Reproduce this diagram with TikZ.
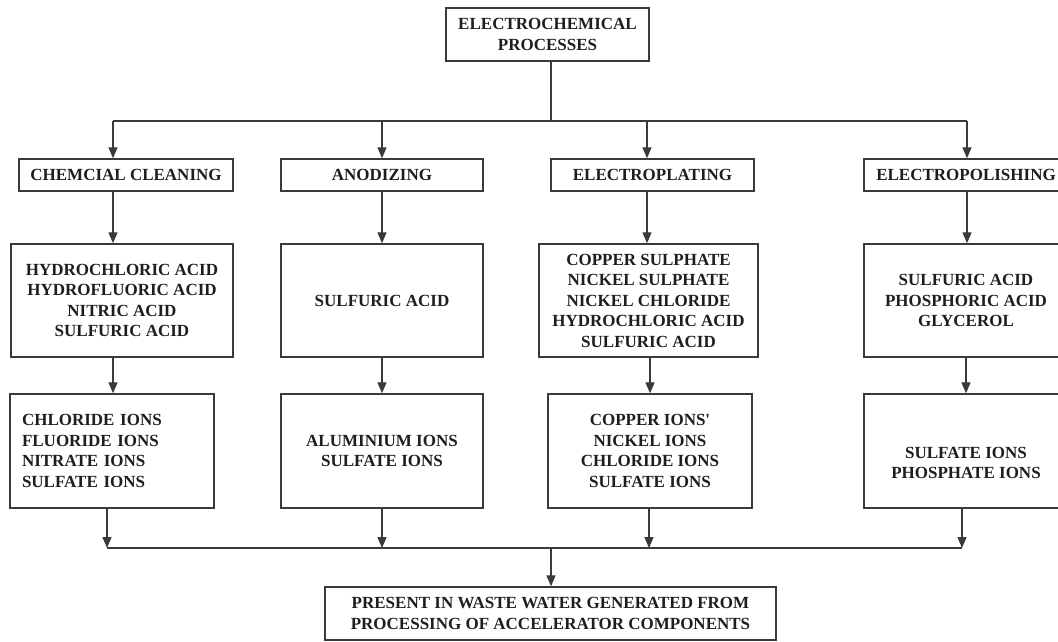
\documentclass[tikz,border=0pt]{standalone}
\usepackage{fontspec}
\setmainfont{Liberation Serif}
\usetikzlibrary{arrows.meta}
\definecolor{ln}{HTML}{3A3A3A}
\definecolor{tx}{HTML}{1E1E1E}
\tikzset{
  box/.style={draw=ln, line width=1.4pt, rectangle, inner sep=0pt, align=center,
    text=tx, font=\fontsize{17}{20.5}\selectfont\bfseries},
  txt/.style={inner sep=0pt, align=center, text=tx, font=\fontsize{17}{20.5}\selectfont\bfseries},
  wire/.style={draw=ln, line width=1.3pt},
  arr/.style={draw=ln, line width=1.3pt, -{Triangle[length=11pt,width=9pt]}}
}
\begin{document}
\begin{tikzpicture}[x=1pt,y=-1pt]
\useasboundingbox (0,0) rectangle (1058,641);
\clip (0,0) rectangle (1058,641);
% top
\node[box, minimum width=203pt, minimum height=53pt] (top) at (547.5,34.5) {ELECTROCHEMICAL\\PROCESSES};
% level 1
\node[box, minimum width=214pt, minimum height=32pt] (cc1) at (126,175) {CHEMCIAL CLEANING};
\node[box, minimum width=202pt, minimum height=32pt] (an1) at (382,175) {ANODIZING};
\node[box, minimum width=203pt, minimum height=32pt] (ep1) at (652.5,175) {ELECTROPLATING};
\node[box, minimum width=204pt, minimum height=32pt] (po1) at (966,175) {ELECTROPOLISHING};
% level 2
\node[box, minimum width=222pt, minimum height=113pt] (cc2) at (122,300.5) {HYDROCHLORIC ACID\\HYDROFLUORIC ACID\\NITRIC ACID\\SULFURIC ACID};
\node[box, minimum width=202pt, minimum height=113pt] (an2) at (382,300.5) {SULFURIC ACID};
\node[box, minimum width=219pt, minimum height=113pt] (ep2) at (648.5,300.5) {COPPER SULPHATE\\NICKEL SULPHATE\\NICKEL CHLORIDE\\HYDROCHLORIC ACID\\SULFURIC ACID};
\node[box, minimum width=204pt, minimum height=113pt] (po2) at (966,300.5) {SULFURIC ACID\\PHOSPHORIC ACID\\GLYCEROL};
% level 3
\node[box, minimum width=204pt, minimum height=114pt, text width=180pt, inner xsep=12pt, align=left] (cc3) at (112,451) {CHLORIDE IONS\\FLUORIDE IONS\\NITRATE IONS\\SULFATE IONS};
\node[box, minimum width=202pt, minimum height=114pt] (an3) at (382,451) {ALUMINIUM IONS\\SULFATE IONS};
\node[box, minimum width=204pt, minimum height=114pt] (ep3) at (650,451) {COPPER IONS\textquotesingle\\NICKEL IONS\\CHLORIDE IONS\\SULFATE IONS};
\node[box, minimum width=204pt, minimum height=114pt] (po3) at (966,451) {};
\node[txt] (po3t) at (966,463) {SULFATE IONS\\PHOSPHATE IONS};
% bottom
\node[box, minimum width=451pt, minimum height=53pt] (bot) at (550.5,613.5) {PRESENT IN WASTE WATER GENERATED FROM\\PROCESSING OF ACCELERATOR COMPONENTS};
% junction coordinates
\coordinate (jt) at (551,121);
\coordinate (h1) at (113,121);
\coordinate (h2) at (382,121);
\coordinate (h3) at (647,121);
\coordinate (h4) at (967,121);
\coordinate (jb) at (551,548);
\coordinate (b1) at (107,548);
\coordinate (b2) at (382,548);
\coordinate (b3) at (649,548);
\coordinate (b4) at (962,548);
% top connectors
\draw[wire] (top.south -| jt) -- (jt);
\draw[wire] (h1) -- (h4);
\draw[arr] (h1) -- (h1 |- cc1.north);
\draw[arr] (h2) -- (h2 |- an1.north);
\draw[arr] (h3) -- (h3 |- ep1.north);
\draw[arr] (h4) -- (h4 |- po1.north);
% level1 -> level2
\draw[arr] (h1 |- cc1.south) -- (h1 |- cc2.north);
\draw[arr] (h2 |- an1.south) -- (h2 |- an2.north);
\draw[arr] (h3 |- ep1.south) -- (h3 |- ep2.north);
\draw[arr] (h4 |- po1.south) -- (h4 |- po2.north);
% level2 -> level3
\draw[arr] (h1 |- cc2.south) -- (h1 |- cc3.north);
\draw[arr] (h2 |- an2.south) -- (h2 |- an3.north);
\draw[arr] (ep3.north |- ep2.south) -- (ep3.north);
\draw[arr] (po3.north |- po2.south) -- (po3.north);
% level3 -> bottom bus
\draw[arr] (b1 |- cc3.south) -- (b1);
\draw[arr] (b2 |- an3.south) -- (b2);
\draw[arr] (b3 |- ep3.south) -- (b3);
\draw[arr] (b4 |- po3.south) -- (b4);
\draw[wire] (b1) -- (b4);
\draw[arr] (jb) -- (jb |- bot.north);
\end{tikzpicture}
\end{document}
